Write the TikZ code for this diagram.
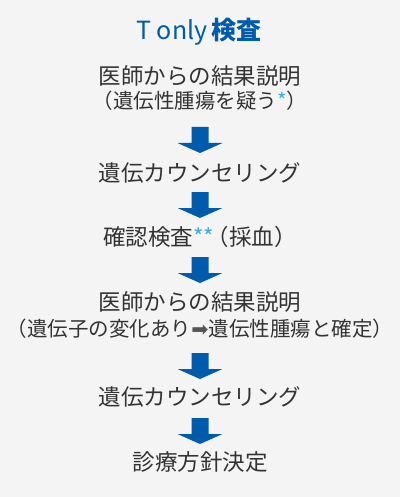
\documentclass[tikz,border=0pt]{standalone}
\usepackage{fontspec}
\setmainfont{Noto Sans CJK JP}
\newfontfamily\symfont{DejaVu Sans}
\definecolor{bgc}{HTML}{F4F4F4}
\definecolor{bluec}{HTML}{005BAC}
\definecolor{txtc}{HTML}{333333}
\definecolor{starc}{HTML}{3AAEE2}
\definecolor{arrc}{HTML}{555555}
\tikzset{
  mainline/.style={anchor=base, inner sep=0pt, text=txtc, font=\fontsize{22.5}{26}\selectfont},
  subline/.style={anchor=base, inner sep=0pt, text=txtc, font=\fontsize{20.5}{24}\selectfont},
  titleline/.style={anchor=base, inner sep=0pt, text=bluec, font=\fontsize{25}{29}\selectfont},
  pics/blockarrow/.style={code={
    \fill[bluec] (-8.5,0) -- (8.5,0) -- (8.5,16) -- (22.5,16) -- (0,26) -- (-22.5,16) -- (-8.5,16) -- cycle;
  }}
}
\newcommand{\bluestar}{\textcolor{starc}{*}}
\begin{document}
\begin{tikzpicture}[x=1pt,y=-1pt]
\fill[bgc] (0,0) rectangle (400,497);
\useasboundingbox (0,0) rectangle (400,497);
\node[titleline] (title) at (199,40) {T only\,\textbf{検査}};
\node[mainline] (l1) at (200,85) {医師からの結果説明};
\node[subline] (l1b) at (200,109) {（遺伝性腫瘍を疑う\bluestar）};
\pic at (200,127) {blockarrow};
\node[mainline] (l2) at (200,181) {遺伝カウンセリング};
\pic at (200,192) {blockarrow};
\node[mainline] (l3) at (200,245) {確認検査\bluestar\bluestar\kern-0.35em（採血）};
\pic at (200,257) {blockarrow};
\node[mainline] (l4) at (200,310) {医師からの結果説明};
\node[subline] (l4b) at (200,336) {（遺伝子の変化あり{\symfont\textcolor{arrc}{➡}}遺伝性腫瘍と確定）};
\pic at (200,353) {blockarrow};
\node[mainline] (l5) at (200,405) {遺伝カウンセリング};
\pic at (200,418) {blockarrow};
\node[mainline] (l6) at (200,470) {診療方針決定};
\end{tikzpicture}
\end{document}
